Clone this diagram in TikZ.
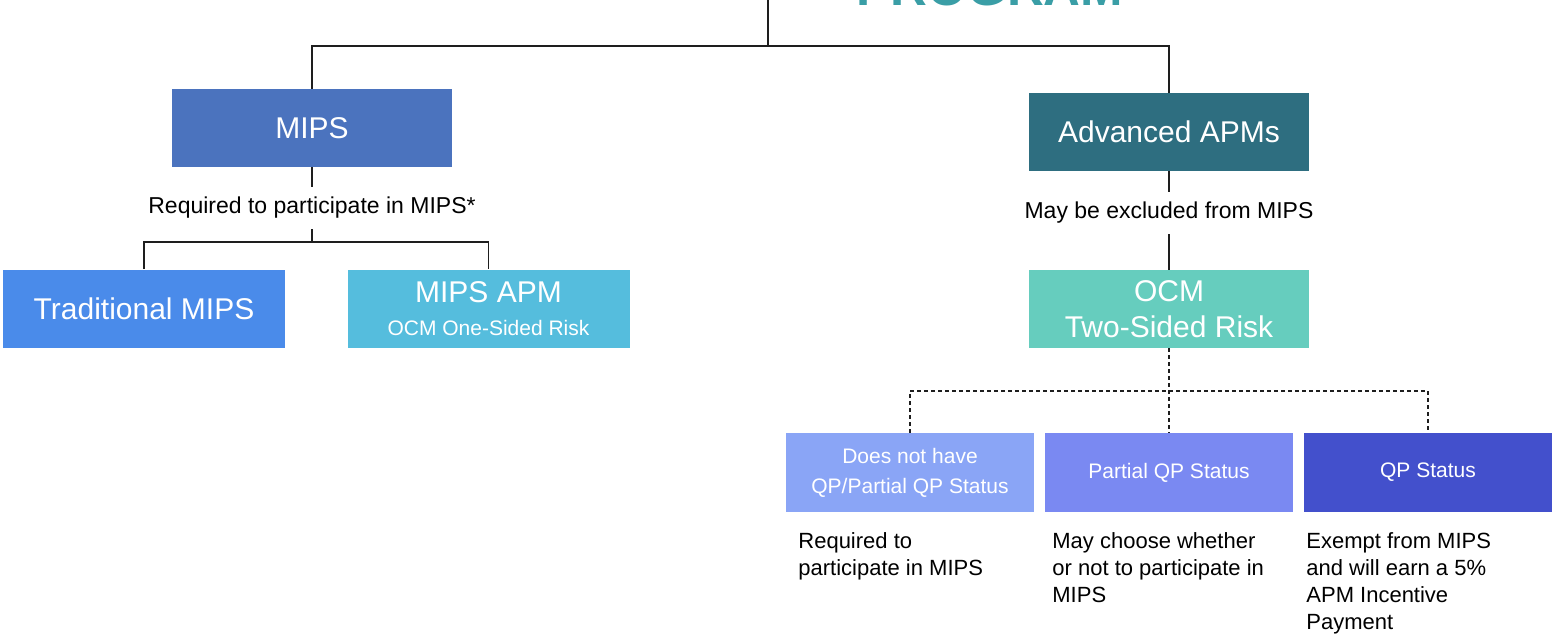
\documentclass[tikz,border=0pt]{standalone}
\usepackage{fontspec}
\setmainfont{Liberation Sans}
\definecolor{cMIPS}{RGB}{75,115,190}
\definecolor{cAdv}{RGB}{46,110,128}
\definecolor{cTrad}{RGB}{74,139,234}
\definecolor{cMapm}{RGB}{85,189,221}
\definecolor{cOCM}{RGB}{102,205,190}
\definecolor{cNone}{RGB}{138,165,246}
\definecolor{cPart}{RGB}{122,137,242}
\definecolor{cQP}{RGB}{67,80,204}
\definecolor{cProg}{RGB}{58,158,166}
\definecolor{cLine}{RGB}{30,30,30}
\begin{document}
\begin{tikzpicture}[x=0.5pt,y=-0.5pt,
  bigbox/.style={rectangle, draw=none, minimum width=140pt, minimum height=39pt,
    inner sep=0pt, text=white, align=center, font=\fontsize{15}{18}\selectfont},
  smallbox/.style={rectangle, draw=none, minimum width=124pt, minimum height=39.5pt,
    inner sep=0pt, text=white, align=center, font=\fontsize{10.5}{15}\selectfont},
  lbl/.style={inner xsep=2pt, inner ysep=5pt, text=black, font=\fontsize{11.5}{14}\selectfont},
  note/.style={inner sep=0pt, anchor=north west, align=left, text=black,
    font=\fontsize{11}{13.5}\selectfont},
  conn/.style={draw=cLine, line width=0.8pt},
  dconn/.style={draw=cLine, line width=0.8pt, dash pattern=on 2pt off 1.5pt}]
\useasboundingbox (0,0) rectangle (1553,638);
\clip (0,0) rectangle (1553,638);

% cut-off title
\node[anchor=base, inner sep=0pt, text=cProg, font=\bfseries\fontsize{25.5}{30}\selectfont] (prog) at (990,5) {PROGRAM};

% boxes
\node[bigbox, fill=cMIPS] (mips) at (312,128) {MIPS};
\node[bigbox, fill=cAdv] (adv) at (1169,132) {Advanced APMs};
\node[bigbox, fill=cTrad, minimum width=141pt] (trad) at (144,308.5) {Traditional MIPS};
\node[bigbox, fill=cMapm, minimum width=141pt] (mapm) at (488.5,308.5) {MIPS APM\\[-1.5pt]{\fontsize{10.5}{12}\selectfont OCM One-Sided Risk}};
\node[bigbox, fill=cOCM] (ocm) at (1169,309) {OCM\\Two-Sided Risk};

\node[smallbox, fill=cNone] (none) at (910,472.5) {Does not have\\QP/Partial QP Status};
\node[smallbox, fill=cPart] (part) at (1169,472.5) {Partial QP Status};
\node[smallbox, fill=cQP] (qp) at (1428,472.5) {QP Status};

% labels
\node[lbl] (req) at (312,208) {Required to participate in MIPS*};
\node[lbl] (excl) at (1169,213) {May be excluded from MIPS};

\node[note] (n1) at (798,532) {Required to\\participate in MIPS};
\node[note] (n2) at (1052,532) {May choose whether\\or not to participate in\\MIPS};
\node[note] (n3) at (1306,532) {Exempt from MIPS\\and will earn a 5\%\\APM Incentive\\Payment};

% connectors
\coordinate (top) at (768,0);
\coordinate (j0) at (768,46);
\coordinate (j1) at (312,242);
\coordinate (j2) at (1169,391);
\draw[conn] (top) -- (j0);
\draw[conn] (mips.north) |- (adv.north |- j0) -- (adv.north);
\draw[conn] (mips.south) -- (req.north);
\draw[conn] (req.south) -- (j1);
\draw[conn] (trad.north) |- (mapm.north |- j1) -- (mapm.north);
\draw[conn] (adv.south) -- (excl.north);
\draw[conn] (excl.south) -- (ocm.north);
\draw[dconn] (ocm.south) -- (part.north);
\draw[dconn] (none.north) |- (qp.north |- j2) -- (qp.north);
\end{tikzpicture}
\end{document}
